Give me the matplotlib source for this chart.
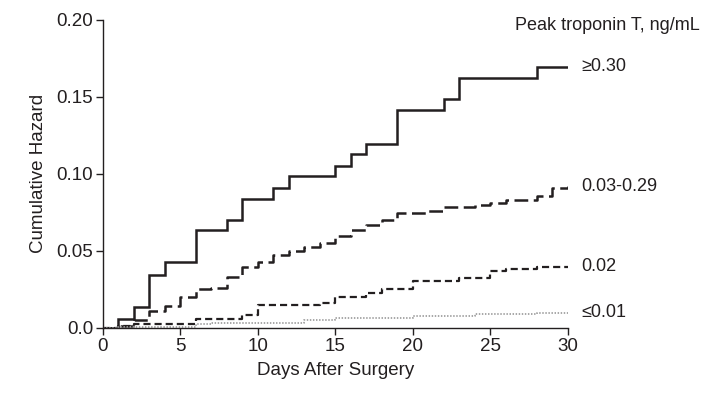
import matplotlib
matplotlib.use("Agg")
import matplotlib.pyplot as plt

plt.rcParams['font.family'] = ['Liberation Sans', 'DejaVu Sans']
ink = '#231f20'

# Cumulative hazard by peak troponin T group (step points, days after surgery)
days_high = [0, 1, 2, 3, 4, 6, 8, 9, 11, 12, 15, 16, 17, 19, 22, 23, 28, 30]
haz_high = [0, 0.0060, 0.0138, 0.0344, 0.0426, 0.0636, 0.0700, 0.0840, 0.0910,
            0.0987, 0.1054, 0.1132, 0.1197, 0.1412, 0.1489, 0.1625, 0.1697, 0.1697]

days_mid = [0, 1, 2, 3, 4, 5, 6, 7, 8, 9, 10, 11, 12, 13, 14, 15, 16, 17, 18, 19,
            21, 22, 24, 25, 26, 28, 29, 30]
haz_mid = [0, 0.0010, 0.0050, 0.0108, 0.0145, 0.0203, 0.0251, 0.0262, 0.0333,
           0.0396, 0.0429, 0.0476, 0.0500, 0.0526, 0.0554, 0.0600, 0.0636, 0.0669,
           0.0701, 0.0745, 0.0760, 0.0788, 0.0797, 0.0814, 0.0831, 0.0857, 0.0907, 0.0920]

days_02 = [0, 1, 2, 6, 9, 10, 14, 15, 17, 18, 20, 23, 25, 26, 28, 30]
haz_02 = [0, 0.0010, 0.0023, 0.0060, 0.0086, 0.0146, 0.0160, 0.0203, 0.0228,
          0.0251, 0.0303, 0.0327, 0.0370, 0.0385, 0.0398, 0.0398]

days_low = [0, 1, 2, 6, 7, 10, 13, 15, 20, 24, 28, 30]
haz_low = [0, 0.0004, 0.0009, 0.0024, 0.0030, 0.0035, 0.0052, 0.0063, 0.0080,
           0.0089, 0.0095, 0.0100]

group_labels = ['\u22650.30', '0.03-0.29', '0.02', '\u22640.01']
label_y = [0.170, 0.092, 0.040, 0.010]

fig = plt.figure(figsize=(7.25, 3.97), dpi=100)
ax = fig.add_axes([0.142, 0.174, 0.641, 0.776])

ax.step(days_high, haz_high, where='post', color=ink, lw=1.8, solid_joinstyle='miter')
ax.step(days_mid, haz_mid, where='post', color=ink, lw=1.8, dashes=(5.5, 2.2))
ax.step(days_02, haz_02, where='post', color=ink, lw=1.6, dashes=(3.2, 1.8))
ax.step(days_low, haz_low, where='post', color='#a0a0a0', lw=1.3, dashes=(0.8, 0.9))

for txt, yv in zip(group_labels, label_y):
    ax.annotate(txt, xy=(30, yv), xytext=(10, 0), textcoords='offset points',
                va='center', ha='left', fontsize=13, color=ink, annotation_clip=False)
ax.text(700 / 725, 1 - 25 / 397, 'Peak troponin T, ng/mL', transform=fig.transFigure,
        ha='right', va='center', fontsize=13, color=ink)

ax.set_xlim(0, 30)
ax.set_ylim(0, 0.20)
ax.set_xticks([0, 5, 10, 15, 20, 25, 30])
ax.set_yticks([0, 0.05, 0.10, 0.15, 0.20])
ax.set_yticklabels(['0.0', '0.05', '0.10', '0.15', '0.20'])
ax.set_xlabel('Days After Surgery', fontsize=13.5, color=ink, labelpad=5)
ax.set_ylabel('Cumulative Hazard', fontsize=13.5, color=ink, labelpad=7)

for side in ['top', 'right']:
    ax.spines[side].set_visible(False)
for side in ['left', 'bottom']:
    ax.spines[side].set_color(ink)
    ax.spines[side].set_linewidth(1.0)
ax.tick_params(direction='out', length=5, width=1.0, colors=ink, labelsize=13.5, pad=2)

fig.savefig('out.png', dpi=100)
